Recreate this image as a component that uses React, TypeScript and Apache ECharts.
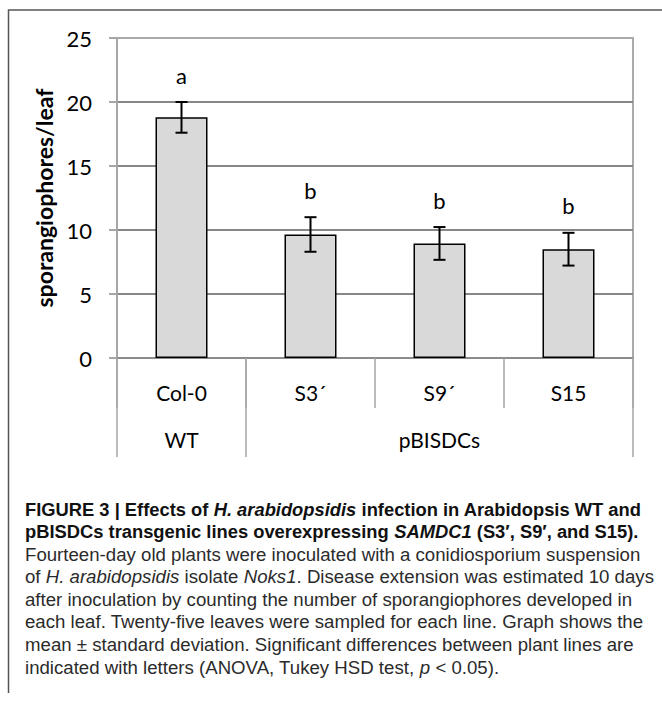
import React, { useEffect, useRef } from 'react';
import * as echarts from 'echarts';

const categories = ['Col-0', 'S3´', 'S9´', 'S15'];
const groupLabels = ['WT', 'pBISDCs'];
const groupBounds = [0, 1, 4];
const groupCenters = [0.5, 2.5];
const means = [18.8, 9.65, 8.95, 8.5];
const sds = [1.2, 1.35, 1.28, 1.28];
const letters = ['a', 'b', 'b', 'b'];
const yMin = 0;
const yMax = 25;
const yInterval = 5;

type Seg = { t: string; s: 'r' | 'i' | 'b' | 'bi' };
const captionLines: Seg[][] = [
  [
    { t: 'FIGURE 3 | Effects of ', s: 'b' },
    { t: 'H. arabidopsidis', s: 'bi' },
    { t: ' infection in Arabidopsis WT and', s: 'b' },
  ],
  [
    { t: 'pBISDCs transgenic lines overexpressing ', s: 'b' },
    { t: 'SAMDC1', s: 'bi' },
    { t: ' (S3′, S9′, and S15).', s: 'b' },
  ],
  [{ t: 'Fourteen-day old plants were inoculated with a conidiosporium suspension', s: 'r' }],
  [
    { t: 'of ', s: 'r' },
    { t: 'H. arabidopsidis', s: 'i' },
    { t: ' isolate ', s: 'r' },
    { t: 'Noks1', s: 'i' },
    { t: '. Disease extension was estimated 10 days', s: 'r' },
  ],
  [{ t: 'after inoculation by counting the number of sporangiophores developed in', s: 'r' }],
  [{ t: 'each leaf. Twenty-five leaves were sampled for each line. Graph shows the', s: 'r' }],
  [{ t: 'mean ± standard deviation. Significant differences between plant lines are', s: 'r' }],
  [
    { t: 'indicated with letters (ANOVA, Tukey HSD test, ', s: 'r' },
    { t: 'p', s: 'i' },
    { t: ' < 0.05).', s: 'r' },
  ],
];

const CAP_FONT = 'Liberation Sans';
const CAP_SIZE = 18.5;

function segFont(s: string) {
  const italic = s === 'i' || s === 'bi' ? 'italic ' : '';
  const bold = s === 'b' || s === 'bi' ? 'bold ' : '';
  return `${italic}${bold}${CAP_SIZE}px "${CAP_FONT}"`;
}

function measureLine(ctx: CanvasRenderingContext2D, line: Seg[]) {
  let w = 0;
  for (const seg of line) {
    ctx.font = segFont(seg.s);
    w += ctx.measureText(seg.t).width;
  }
  return w;
}

export default function App() {
  const ref = useRef<HTMLDivElement>(null);

  useEffect(() => {
    document.body.style.margin = '0';
    const chart = echarts.init(ref.current!, null, { renderer: 'svg' });

    const canvas = document.createElement('canvas');
    const ctx = canvas.getContext('2d')!;
    const boldScale = 617 / measureLine(ctx, captionLines[0]);
    const regScale = 616 / measureLine(ctx, captionLines[2]);

    const richStyles: any = {};
    (['r', 'i', 'b', 'bi'] as const).forEach((k) => {
      richStyles[k] = {
        fontFamily: CAP_FONT,
        fontSize: CAP_SIZE,
        fontWeight: k === 'b' || k === 'bi' ? 'bold' : 'normal',
        fontStyle: k === 'i' || k === 'bi' ? 'italic' : 'normal',
        fill: k === 'b' || k === 'bi' ? '#111' : '#2b2b2b',
        lineHeight: 20,
      };
    });

    const captionGraphics = captionLines.map((line, li) => {
      const isBold = line[0].s === 'b';
      const text = line.map((seg) => `{${seg.s}|${seg.t}}`).join('');
      return {
        type: 'text',
        x: 25,
        y: 509 + li * 22.6,
        scaleX: isBold ? boldScale : regScale,
        style: {
          text,
          rich: richStyles,
          align: 'left',
          verticalAlign: 'middle',
        },
      };
    });

    const errorData = means.map((m, i) => [i, m - sds[i], m + sds[i]]);

    const labelFont = { fontFamily: 'Lato', fontSize: 21, color: '#000' };

    const option: any = {
      animation: false,
      backgroundColor: '#fff',
      grid: {
        left: 117,
        top: 38,
        width: 516,
        height: 320,
        show: true,
        borderColor: '#aaaaaa',
        borderWidth: 2,
        backgroundColor: 'transparent',
      },
      xAxis: [
        {
          type: 'category',
          data: categories,
          position: 'bottom',
          axisLine: { show: true, lineStyle: { color: '#8c8c8c', width: 2 } },
          axisTick: { show: true, interval: 0, length: 50, lineStyle: { color: '#a6a6a6', width: 1.5 } },
          axisLabel: { ...labelFont, margin: 24, interval: 0 },
          splitLine: { show: false },
        },
        {
          type: 'value',
          min: 0,
          max: 4,
          position: 'bottom',
          axisLine: { show: false },
          splitLine: { show: false },
          axisTick: {
            show: true,
            customValues: groupBounds,
            length: 99,
            lineStyle: { color: '#a6a6a6', width: 1.5 },
          },
          axisLabel: {
            ...labelFont,
            margin: 71,
            customValues: groupCenters,
            formatter: (v: number) => groupLabels[groupCenters.indexOf(v)] ?? '',
          },
        },
      ],
      yAxis: {
        type: 'value',
        min: yMin,
        max: yMax,
        interval: yInterval,
        name: 'sporangiophores/leaf',
        nameLocation: 'middle',
        nameGap: 58,
        nameTextStyle: { fontFamily: 'Lato', fontSize: 23, fontWeight: 'bold', color: '#000' },
        axisLine: { show: true, lineStyle: { color: '#a6a6a6', width: 2 } },
        axisTick: { show: true, length: 8, lineStyle: { color: '#a6a6a6', width: 2 } },
        axisLabel: { ...labelFont, fontSize: 22, margin: 25 },
        splitLine: { show: true, showMaxLine: false, lineStyle: { color: '#878787', width: 2 } },
      },
      series: [
        {
          type: 'bar',
          data: means,
          barWidth: 52,
          itemStyle: { color: '#d9d9d9', borderColor: '#000', borderWidth: 1.5 },
          z: 2,
        },
        {
          type: 'custom',
          data: errorData,
          z: 3,
          renderItem: (params: any, api: any) => {
            const i = api.value(0);
            const lo = api.coord([i, api.value(1)]);
            const hi = api.coord([i, api.value(2)]);
            const x = hi[0];
            const cap = 6;
            const st = { stroke: '#000', lineWidth: 2 };
            return {
              type: 'group',
              children: [
                { type: 'line', shape: { x1: x, y1: hi[1], x2: x, y2: lo[1] }, style: st },
                { type: 'line', shape: { x1: x - cap, y1: hi[1], x2: x + cap, y2: hi[1] }, style: st },
                { type: 'line', shape: { x1: x - cap, y1: lo[1], x2: x + cap, y2: lo[1] }, style: st },
                {
                  type: 'text',
                  x,
                  y: hi[1] - 27,
                  style: {
                    text: letters[i],
                    fontFamily: 'Lato',
                    fontSize: 22,
                    fill: '#000',
                    align: 'center',
                    verticalAlign: 'middle',
                  },
                },
              ],
            };
          },
        },
      ],
      graphic: [
        {
          type: 'polyline',
          shape: { points: [[8.5, 693], [8.5, 10], [662, 10]] },
          style: { stroke: '#555', lineWidth: 1.5, fill: 'none' },
          silent: true,
        },
        ...captionGraphics,
      ],
    };

    chart.setOption(option);
    return () => chart.dispose();
  }, []);

  return <div ref={ref} style={{ width: 662, height: 703 }} />;
}
